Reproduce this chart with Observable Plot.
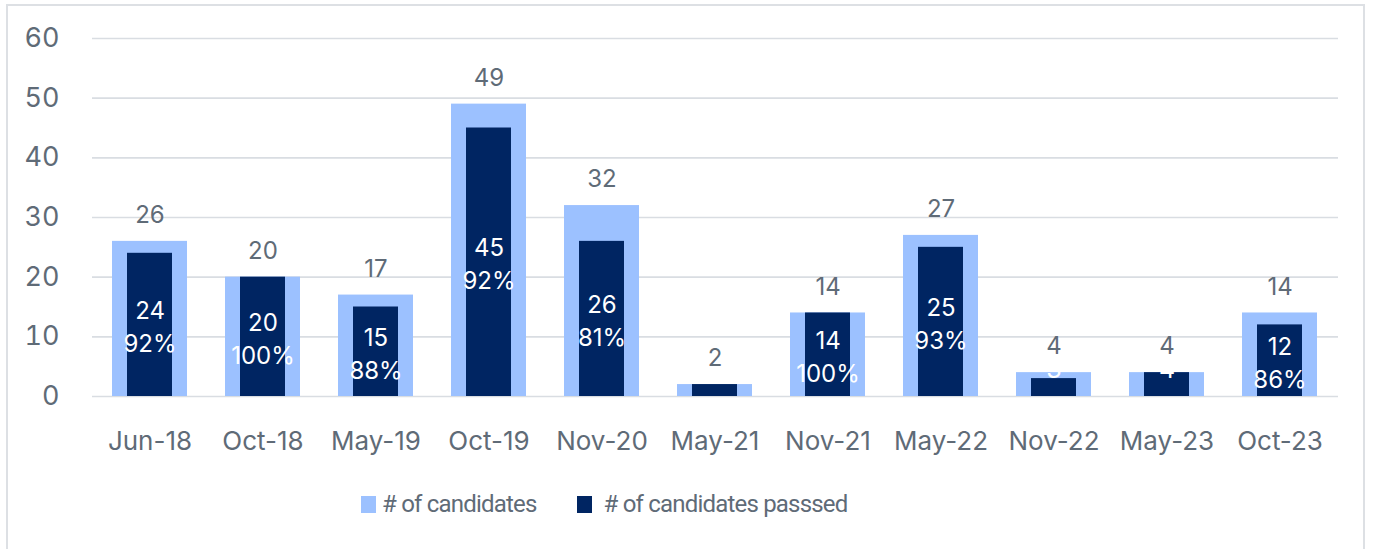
<!DOCTYPE html>
<html>
<head>
<meta charset="utf-8">
<script src="https://cdn.jsdelivr.net/npm/d3@7"></script>
<script src="https://cdn.jsdelivr.net/npm/@observablehq/plot@0.6"></script>
<style>
  html, body { margin: 0; padding: 0; background: #fff; }
  #frame { position: absolute; left: 6px; top: 4px; width: 1359px; height: 560px; border: 2px solid #dde0e4; box-sizing: border-box; }
  #chart { position: absolute; left: 0; top: 0; }
  #legend { position: absolute; left: 361px; top: 490px; display: flex; align-items: center; font-family: Roboto, "Liberation Sans", sans-serif; font-size: 24px; letter-spacing: -0.8px; color: #5f6b77; }
  .item { display: flex; align-items: center; }
  .sw { width: 15px; height: 17px; margin-right: 6px; }
</style>
</head>
<body>
<div id="frame"></div>
<div id="chart"></div>
<div id="legend"></div>
<script>
const categories = ["Jun-18","Oct-18","May-19","Oct-19","Nov-20","May-21","Nov-21","May-22","Nov-22","May-23","Oct-23"];
const candidates = [26, 20, 17, 49, 32, 2, 14, 27, 4, 4, 14];
const passed = [24, 20, 15, 45, 26, 2, 14, 25, 3, 4, 12];
const percentLabels = ["92%","100%","88%","92%","81%","","100%","93%","","","86%"];
const partialLabels = ["","","","","","","","","3","4",""];
const yTicks = [0, 10, 20, 30, 40, 50, 60];
const seriesNames = ["# of candidates", "# of candidates passsed"];
const colors = ["#9cc1ff", "#002562"];

const data = categories.map((c, i) => ({
  cat: c, total: candidates[i], passed: passed[i], pct: percentLabels[i], part: partialLabels[i]
}));
const inside = data.filter(d => d.pct !== "");
const small = data.filter(d => d.part !== "");

const font = "Inter, 'Liberation Sans', sans-serif";
const gray = "#5f6b77";

const chart = Plot.plot({
  width: 1373,
  height: 470,
  marginLeft: 92,
  marginRight: 35,
  marginTop: 38,
  marginBottom: 74,
  style: { fontFamily: font, background: "transparent" },
  x: { domain: categories, paddingInner: 0.332, paddingOuter: 0.166, label: null },
  y: { domain: [0, 60], label: null },
  marks: [
    Plot.ruleY(yTicks, { stroke: "#d9dde2", strokeWidth: 1.6 }),
    Plot.axisY({ ticks: yTicks, tickSize: 0, tickPadding: 33, fontSize: 27, color: gray, label: null }),
    Plot.axisX({ tickSize: 0, tickPadding: 35, fontSize: 26, color: gray, label: null }),
    Plot.barY(data, { x: "cat", y: "total", fill: colors[0] }),
    Plot.barY(data, { x: "cat", y: "passed", fill: colors[1], insetLeft: 15, insetRight: 15 }),
    Plot.text(small, { x: "cat", y: "total", text: "part", dy: -3, fill: "white", fontSize: 25 }),
    Plot.text(data, { x: "cat", y: "total", text: d => String(d.total), dy: -26, fill: gray, fontSize: 24 }),
    Plot.text(inside, { x: "cat", y: d => d.passed / 2, text: d => d.passed + "\n" + d.pct, fill: "white", fontSize: 24, lineHeight: 1.37 })
  ]
});
document.getElementById("chart").appendChild(chart);

const legend = document.getElementById("legend");
seriesNames.forEach((n, i) => {
  const it = document.createElement("div");
  it.className = "item";
  const sw = document.createElement("div");
  sw.className = "sw";
  sw.style.background = colors[i];
  if (i === 1) { sw.style.marginRight = "12px"; it.style.marginLeft = "40px"; }
  const t = document.createElement("span");
  t.textContent = n;
  it.appendChild(sw); it.appendChild(t);
  legend.appendChild(it);
});
</script>
</body>
</html>
